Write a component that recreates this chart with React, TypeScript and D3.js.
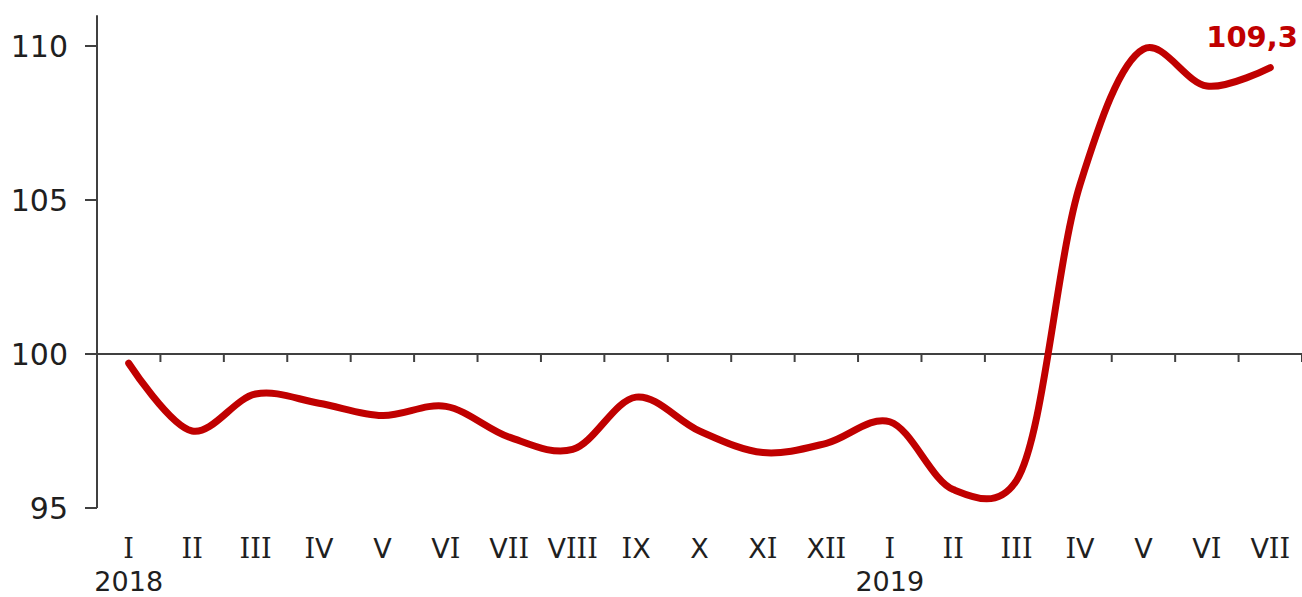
import React from 'react';
import * as d3 from 'd3';

// categories (months) and the index values
const months = ['I', 'II', 'III', 'IV', 'V', 'VI', 'VII', 'VIII', 'IX', 'X', 'XI', 'XII', 'I', 'II', 'III', 'IV', 'V', 'VI', 'VII'];
const values = [99.7, 97.5, 98.7, 98.4, 98.0, 98.3, 97.3, 96.9, 98.6, 97.5, 96.8, 97.1, 97.8, 95.6, 95.9, 105.5, 109.9, 108.7, 109.3];
const years = [
  { index: 0, label: '2018' },
  { index: 12, label: '2019' },
];
const yTicks = [95, 100, 105, 110];
const lastLabel = '109,3';

const W = 1302;
const H = 597;
const RED = '#c00000';
const AXIS = '#404040';
const TEXT = '#1f1f1f';

// roman numerals: "I" drawn in a serif face (like Verdana's I), the rest sans
function Roman({ text }: { text: string }) {
  return (
    <>
      {text.split('').map((c, i) => (
        <tspan key={i} fontFamily={c === 'I' ? 'DejaVu Serif' : 'DejaVu Sans'}>
          {c}
        </tspan>
      ))}
    </>
  );
}

export default function App() {
  const idx = months.map((_, i) => i);
  const x = d3.scaleBand<number>().domain(idx).range([97, W]).padding(0);
  const y = d3.scaleLinear().domain([95, 111]).range([508, 15.2]);
  const cx = (i: number) => (x(i) as number) + x.bandwidth() / 2;

  const line = d3
    .line<number>()
    .x((_, i) => cx(i))
    .y((d) => y(d))
    .curve(d3.curveCatmullRom.alpha(0.25));

  const y0 = y(100);

  return (
    <svg
      width={W}
      height={H}
      style={{ position: 'absolute', left: 0, top: 0, background: '#fff' }}
      fontFamily="DejaVu Sans"
    >
      {/* y axis */}
      <line x1={97} x2={97} y1={y(111)} y2={y(95)} stroke={AXIS} strokeWidth={2} />
      {yTicks.map((t) => (
        <g key={t}>
          <line x1={85} x2={97} y1={y(t)} y2={y(t)} stroke={AXIS} strokeWidth={2} />
          <text x={68} y={y(t)} dy="0.36em" textAnchor="end" fontSize={30} fill={TEXT}>
            {t}
          </text>
        </g>
      ))}

      {/* x axis at 100 */}
      <line x1={85} x2={W} y1={y0} y2={y0} stroke={AXIS} strokeWidth={2} />
      {idx.map((i) => (
        <line
          key={'t' + i}
          x1={(x(i) as number) + x.bandwidth()}
          x2={(x(i) as number) + x.bandwidth()}
          y1={y0}
          y2={y0 + 8}
          stroke={AXIS}
          strokeWidth={2}
        />
      ))}
      {months.map((m, i) => (
        <text key={'m' + i} x={cx(i)} y={558} textAnchor="middle" fontSize={27} fill={TEXT}>
          <Roman text={m} />
        </text>
      ))}
      {years.map((yr) => (
        <text key={yr.label} x={cx(yr.index)} y={591} textAnchor="middle" fontSize={27} fill={TEXT}>
          {yr.label}
        </text>
      ))}

      {/* series */}
      <path
        d={line(values) || ''}
        fill="none"
        stroke={RED}
        strokeWidth={7}
        strokeLinecap="round"
        strokeLinejoin="round"
      />
      <text
        x={1298}
        y={47}
        textAnchor="end"
        fontSize={29}
        fontWeight="bold"
        fill={RED}
      >
        {lastLabel}
      </text>
    </svg>
  );
}
